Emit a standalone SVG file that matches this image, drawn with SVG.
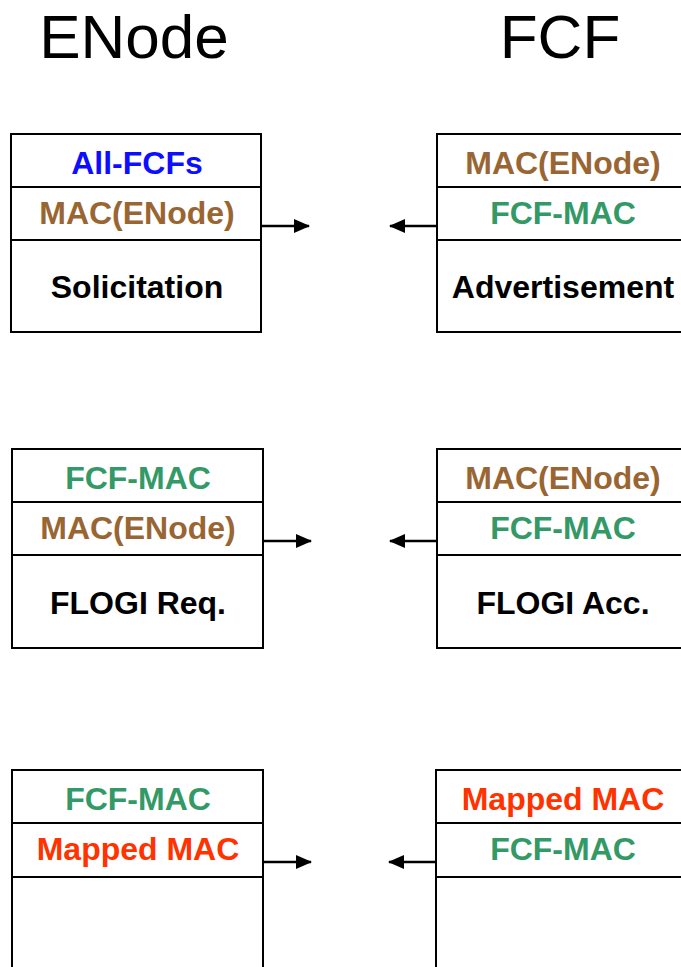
<svg xmlns="http://www.w3.org/2000/svg" width="681" height="967" viewBox="0 0 681 967">
<style>
.box{fill:#fff;stroke:#000;stroke-width:2}
.div{stroke:#000;stroke-width:2}
.t{font-family:"Liberation Sans",Arial,sans-serif;font-weight:bold;font-size:32px;text-anchor:middle}
.title{font-family:"Liberation Sans",Arial,sans-serif;font-size:62px;text-anchor:middle;fill:#000}
.blue{fill:#0d0dff}.brown{fill:#996633}.green{fill:#339966}.red{fill:#ff3300}.black{fill:#000}
.conn{stroke:#000;stroke-width:2.5;fill:none}
</style>
<defs>
<marker id="ah" markerWidth="16" markerHeight="14" refX="15" refY="7" orient="auto" markerUnits="userSpaceOnUse">
<path d="M0,0 L16,7 L0,14 Z" fill="#000"/>
</marker>
</defs>
<text class="title" x="134" y="58">ENode</text>
<text class="title" x="560" y="58">FCF</text>

<g id="enode-solicitation">
<rect class="box" x="11" y="134" width="250" height="198"/>
<line class="div" x1="11" y1="187" x2="261" y2="187"/>
<line class="div" x1="11" y1="240" x2="261" y2="240"/>
<text class="t blue" x="137" y="174">All-FCFs</text>
<text class="t brown" x="137" y="224">MAC(ENode)</text>
<text class="t black" x="137" y="298">Solicitation</text>
</g>
<g id="fcf-advertisement">
<rect class="box" x="437" y="134" width="252" height="198"/>
<line class="div" x1="437" y1="187" x2="689" y2="187"/>
<line class="div" x1="437" y1="240" x2="689" y2="240"/>
<text class="t brown" x="563" y="174">MAC(ENode)</text>
<text class="t green" x="563" y="224">FCF-MAC</text>
<text class="t black" x="563" y="298">Advertisement</text>
</g>
<g id="enode-flogi">
<rect class="box" x="12" y="449" width="251" height="199"/>
<line class="div" x1="12" y1="502" x2="263" y2="502"/>
<line class="div" x1="12" y1="555" x2="263" y2="555"/>
<text class="t green" x="138" y="489">FCF-MAC</text>
<text class="t brown" x="138" y="539">MAC(ENode)</text>
<text class="t black" x="138" y="614">FLOGI Req.</text>
</g>
<g id="fcf-flogi">
<rect class="box" x="437" y="449" width="252" height="199"/>
<line class="div" x1="437" y1="502" x2="689" y2="502"/>
<line class="div" x1="437" y1="555" x2="689" y2="555"/>
<text class="t brown" x="563" y="489">MAC(ENode)</text>
<text class="t green" x="563" y="539">FCF-MAC</text>
<text class="t black" x="563" y="614">FLOGI Acc.</text>
</g>
<g id="enode-mapped">
<rect class="box" x="12" y="770" width="251" height="210"/>
<line class="div" x1="12" y1="823" x2="263" y2="823"/>
<line class="div" x1="12" y1="877" x2="263" y2="877"/>
<text class="t green" x="138" y="810">FCF-MAC</text>
<text class="t red" x="138" y="860">Mapped MAC</text>
</g>
<g id="fcf-mapped">
<rect class="box" x="436" y="770" width="253" height="210"/>
<line class="div" x1="436" y1="823" x2="689" y2="823"/>
<line class="div" x1="436" y1="877" x2="689" y2="877"/>
<text class="t red" x="563" y="810">Mapped MAC</text>
<text class="t green" x="563" y="860">FCF-MAC</text>
</g>

<g id="connectors">
<line class="conn" x1="261" y1="226" x2="309" y2="226" marker-end="url(#ah)"/>
<line class="conn" x1="437" y1="226" x2="390" y2="226" marker-end="url(#ah)"/>
<line class="conn" x1="263" y1="541" x2="311" y2="541" marker-end="url(#ah)"/>
<line class="conn" x1="437" y1="541" x2="390" y2="541" marker-end="url(#ah)"/>
<line class="conn" x1="263" y1="862" x2="311" y2="862" marker-end="url(#ah)"/>
<line class="conn" x1="436" y1="862" x2="389" y2="862" marker-end="url(#ah)"/>
</g>
</svg>
